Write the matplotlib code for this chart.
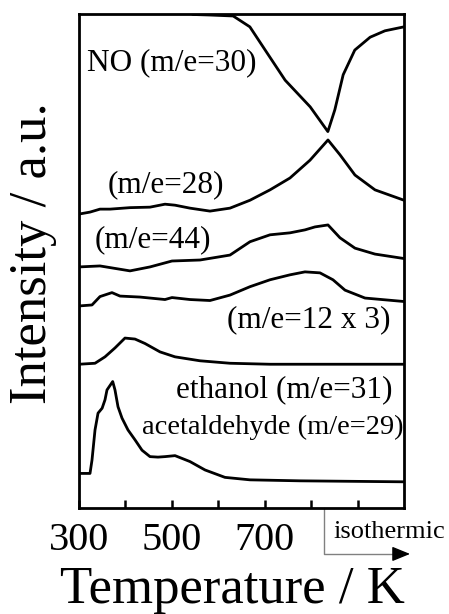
import matplotlib
matplotlib.use("Agg")
import matplotlib.pyplot as plt
import matplotlib.transforms as mtransforms

plt.rcParams['font.family'] = ['Liberation Serif', 'DejaVu Serif']

# temperature (K) / intensity (a.u., 0-100 over the frame)
no_T = [300, 450, 530, 545, 580, 632, 668, 701, 744, 798, 836, 851, 869, 894, 927, 959, 1000]
no_I = [104, 104, 101.5, 99.9, 99.8, 99.6, 97.4, 92.7, 86.6, 81.2, 76.2, 80.6, 87.7, 92.7, 95.3, 96.6, 97.4]

m28_T = [300, 323.7, 345.2, 366.8, 409.8, 452.9, 485.2, 506.8, 539, 582.1, 625.2, 668.3, 711.4,
         754.4, 797.5, 836.3, 862.1, 894.4, 937.5, 1000]
m28_I = [59.5, 59.9, 60.5, 60.5, 60.8, 60.9, 61.5, 61.3, 60.7, 60.1, 60.7, 62.3, 64.4,
         66.8, 70.4, 74.5, 71.5, 67.4, 64.4, 62.3]

m44_T = [300, 345.2, 377.5, 409.8, 452.9, 500.3, 560.6, 625.2, 668.3, 711.4, 754.4, 786.7,
         808.2, 836.3, 862.1, 894.4, 937.5, 1000]
m44_I = [48.8, 49.0, 48.5, 48.0, 48.8, 50.0, 50.2, 51.2, 53.9, 55.3, 55.7, 56.3,
         56.9, 57.3, 54.7, 52.6, 51.4, 50.5]

m12_T = [300, 328, 345.2, 371, 388.3, 431.4, 485.2, 500.3, 539, 582.1, 625.2, 668.3, 711.4,
         754.4, 786.7, 819, 847, 872.9, 916, 1000]
m12_I = [40.9, 41.1, 42.8, 43.6, 42.9, 42.7, 42.2, 42.6, 42.2, 42.0, 43.1, 44.8, 46.2,
         47.2, 47.8, 47.6, 46.2, 44.1, 42.5, 41.8]

eth_T = [300, 334.5, 356, 377.5, 399, 420.6, 442.1, 474.5, 506.8, 560.6, 625.2, 711.4, 1000]
eth_I = [29.1, 29.3, 30.6, 32.4, 34.4, 34.2, 33.3, 31.6, 30.6, 29.8, 29.3, 29.1, 29.1]

ald_T = [300, 323.7, 328, 334.5, 341, 349.8, 356, 360.3, 372.6, 377.5, 384, 392.6, 405.5,
         420.6, 435.7, 452.9, 470.1, 485.2, 506.8, 539, 571.4, 614.4, 668.3, 776, 1000]
ald_I = [7.0, 7.0, 9.7, 15.8, 19.2, 20.2, 21.9, 23.9, 25.6, 23.9, 20.5, 18.2, 15.8,
         13.8, 11.7, 10.4, 10.3, 10.4, 10.6, 9.4, 7.7, 6.2, 5.7, 5.5, 5.3]

xticks = [300, 400, 500, 600, 700, 800, 900]
xticklabels = ['300', '', '500', '', '700', '', '']

fig = plt.figure(figsize=(4.49, 6.14), dpi=100)
ax = fig.add_axes([79/449, 1-508/614, 325/449, 494/614])

for T, I in [(no_T, no_I), (m28_T, m28_I), (m44_T, m44_I), (m12_T, m12_I), (eth_T, eth_I), (ald_T, ald_I)]:
    ax.plot(T, I, color='black', lw=2)

ax.set_xlim(300, 1000)
ax.set_ylim(0, 100)
ax.set_yticks([])
ax.set_xticks(xticks)
ax.set_xticklabels(xticklabels, fontsize=29)
ax.tick_params(axis='x', direction='in', length=6, width=1.8, pad=10)
for s in ax.spines.values():
    s.set_linewidth(2)

fs = 22.5
ax.text(317, 90.1, 'NO (m/e=30)', fontsize=fs, ha='left', va='center')
ax.text(362, 65.4, '(m/e=28)', fontsize=fs, ha='left', va='center')
ax.text(334, 54.3, '(m/e=44)', fontsize=fs, ha='left', va='center')
ax.text(970, 38.1, '(m/e=12 x 3)', fontsize=fs, ha='right', va='center')
ax.text(976, 23.9, 'ethanol (m/e=31)', fontsize=fs, ha='right', va='center')
ax.text(998, 16.4, 'acetaldehyde (m/e=29)', fontsize=20.5, ha='right', va='center')

# isothermic marker below the frame
tr = mtransforms.blended_transform_factory(ax.transData, ax.transAxes)
ax.plot([827, 827, 1000], [0, -0.093, -0.093], color='gray', lw=1, transform=tr, clip_on=False)
ax.annotate('', xy=(1013, -0.093), xytext=(985, -0.093), xycoords=tr, textcoords=tr,
            arrowprops=dict(arrowstyle='-|>,head_length=1.1,head_width=0.45', color='black',
                            lw=1, shrinkA=0, shrinkB=0), annotation_clip=False)
ax.text(847, -0.049, 'isothermic', fontsize=19, ha='left', va='center', transform=tr)

fig.text(232/449, 1-603/614, 'Temperature / K', fontsize=38, ha='center', va='baseline')
fig.text(33/449, 1-253/614, 'Intensity / a.u.', fontsize=38, ha='center', va='center', rotation=90)

fig.savefig('out.png', dpi=100)
